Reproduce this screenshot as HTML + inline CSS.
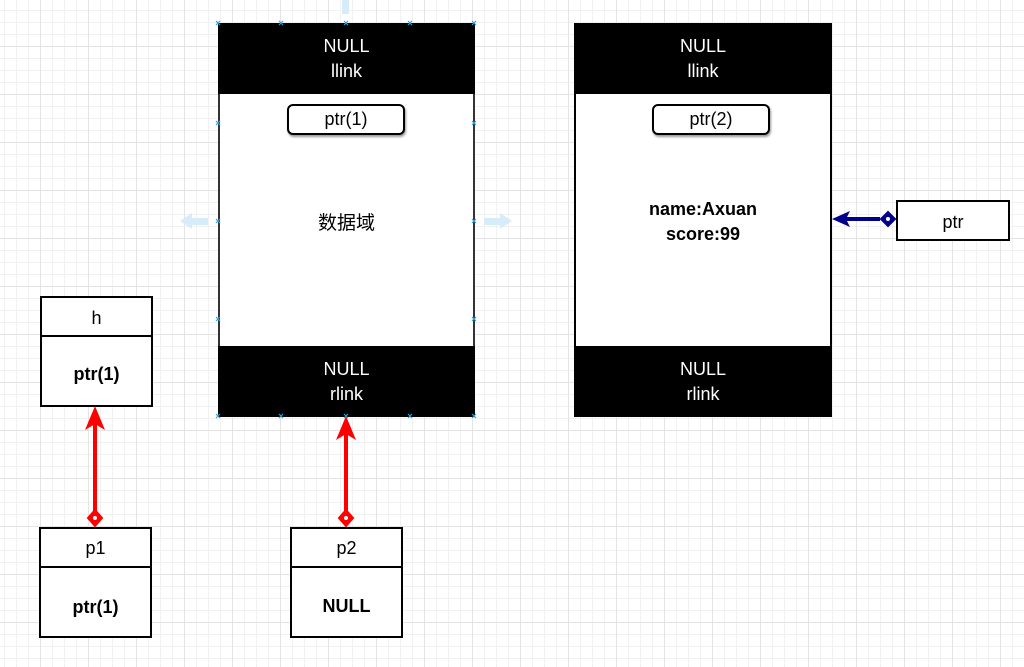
<!DOCTYPE html>
<html><head><meta charset="utf-8"><style>
body{margin:0;width:1024px;height:667px;overflow:hidden;position:relative;font-family:"Liberation Sans","Noto Sans CJK SC",sans-serif;
background-color:#fff;
background-image:linear-gradient(#e4e4e4 1px,transparent 1px),linear-gradient(90deg,#e4e4e4 1px,transparent 1px),linear-gradient(#f1f1f1 1px,transparent 1px),linear-gradient(90deg,#f1f1f1 1px,transparent 1px);
background-size:48px 48px,48px 48px,12px 12px,12px 12px;background-position:-8px -2px;}
.a{position:absolute;box-sizing:border-box}
.blk{background:#000;color:#fff;text-align:center;font-size:18px;line-height:25px;padding-top:11px}
.box{border:2px solid #000;background:#fff;text-align:center}
</style></head><body>
<div class="a" style="left:218px;top:23px;width:257px;height:394px;border:2px solid #333;background:#fff"></div>
<div class="a blk" style="left:218px;top:23px;width:257px;height:71px">NULL<br>llink</div>
<div class="a blk" style="left:218px;top:346px;width:257px;height:71px">NULL<br>rlink</div>
<div class="a box" style="left:287px;top:104px;width:118px;height:31px;border-radius:6px;font-size:18px;line-height:27px;box-shadow:1px 2px 2px #999">ptr(1)</div>
<div class="a" style="left:218px;top:208px;width:257px;text-align:center;font-size:19px">数据域</div>
<div class="a" style="left:574px;top:23px;width:258px;height:394px;border:2px solid #000;background:#fff"></div>
<div class="a blk" style="left:574px;top:23px;width:258px;height:71px">NULL<br>llink</div>
<div class="a blk" style="left:574px;top:346px;width:258px;height:71px">NULL<br>rlink</div>
<div class="a box" style="left:652px;top:104px;width:118px;height:31px;border-radius:6px;font-size:18px;line-height:27px;box-shadow:1px 2px 2px #999">ptr(2)</div>
<div class="a" style="left:574px;top:197px;width:258px;text-align:center;font-size:18px;font-weight:bold;line-height:25px">name:Axuan<br>score:99</div>
<div class="a box" style="left:40px;top:296px;width:113px;height:41px;font-size:18px;line-height:40px">h</div>
<div class="a box" style="left:40px;top:335px;width:113px;height:72px;font-size:18px;font-weight:bold;line-height:74px">ptr(1)</div>
<div class="a box" style="left:39px;top:527px;width:113px;height:41px;font-size:18px;line-height:38px">p1</div>
<div class="a box" style="left:39px;top:566px;width:113px;height:72px;font-size:18px;font-weight:bold;line-height:78px">ptr(1)</div>
<div class="a box" style="left:290px;top:527px;width:113px;height:41px;font-size:18px;line-height:38px">p2</div>
<div class="a box" style="left:290px;top:566px;width:113px;height:72px;font-size:18px;font-weight:bold;line-height:76px">NULL</div>
<div class="a box" style="left:896px;top:200px;width:114px;height:41px;font-size:18px;line-height:40px">ptr</div>
<svg class="a" style="left:0;top:0" width="1024" height="667">
<g fill="#d6ecf8"><rect x="342" y="0" width="7" height="14"/>
<polygon points="180,221 192,213 192,218 208,218 208,225 192,225 192,229"/>
<polygon points="512,221 500,213 500,218 484,218 484,225 500,225 500,229"/></g>
<g stroke="#f00" stroke-width="4" fill="#f00">
<line x1="95" y1="512" x2="95" y2="420"/><polygon points="95,406 85,430 95,424 105,430" stroke="none"/>
<polygon points="95,510 102,518 95,526 88,518" stroke-width="2"/>
<line x1="346" y1="512" x2="346" y2="430"/><polygon points="346,416 336,440 346,434 356,440" stroke="none"/>
<polygon points="346,510 353,518 346,526 339,518" stroke-width="2"/></g>
<circle cx="95" cy="518" r="2" fill="#fff"/><circle cx="346" cy="518" r="2" fill="#fff"/>
<g stroke="#00008b" stroke-width="4" fill="#00008b">
<line x1="880" y1="219" x2="845" y2="219"/><polygon points="832,219 850,211 846,219 850,227" stroke="none"/>
<polygon points="888,212 895,219 888,226 881,219" stroke-width="2"/></g>
<circle cx="888" cy="219" r="2" fill="#fff"/>
<g stroke="#29a3e0" stroke-width="1.2">
<path d="M216,21l4,4M220,21l-4,4M279,21l4,4M283,21l-4,4M344,21l4,4M348,21l-4,4M408,21l4,4M412,21l-4,4M472,21l4,4M476,21l-4,4M216,121l4,4M220,121l-4,4M472,121l4,4M476,121l-4,4M216,219l4,4M220,219l-4,4M472,219l4,4M476,219l-4,4M216,317l4,4M220,317l-4,4M472,317l4,4M476,317l-4,4M216,414l4,4M220,414l-4,4M279,414l4,4M283,414l-4,4M344,414l4,4M348,414l-4,4M408,414l4,4M412,414l-4,4M472,414l4,4M476,414l-4,4"/></g>
</svg>
</body></html>
